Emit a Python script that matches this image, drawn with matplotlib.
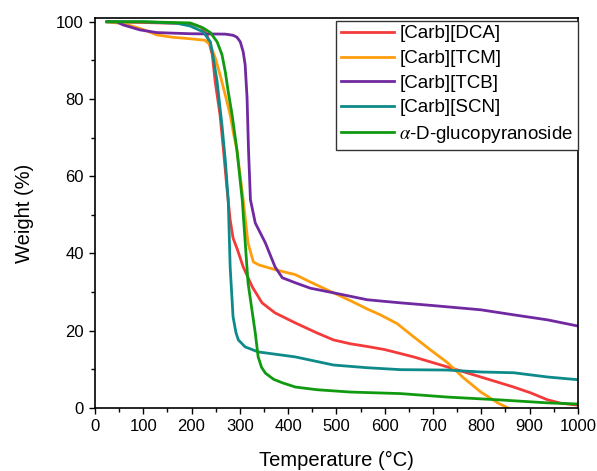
import numpy as np
import matplotlib
matplotlib.use("Agg")
import matplotlib.pyplot as plt
from matplotlib.ticker import MultipleLocator

plt.rcParams['font.family'] = ['Liberation Sans', 'DejaVu Sans']
plt.rcParams['mathtext.fontset'] = 'stix'

# [Carb][DCA]
dca_t = [25, 100, 200, 220, 232, 243, 249, 259, 266, 274, 280, 286, 295, 307, 326, 346,
         373, 415, 460, 494, 529, 564, 600, 660, 730, 799, 867, 902, 937, 965, 1000]
dca_w = [100, 99.8, 99.5, 98.6, 96.6, 91.5, 84.5, 75.9, 67, 56, 48.7, 44, 41, 36.5, 31.3, 27.2,
         24.6, 22, 19.4, 17.6, 16.6, 15.9, 15.1, 13.2, 10.6, 8.0, 5.4, 3.9, 2.1, 1.2, 0.7]

# [Carb][TCM]
tcm_t = [25, 60, 100, 128, 160, 197, 228, 239, 249, 259, 270, 280, 287, 294, 307, 317,
         328, 340, 373, 415, 446, 494, 530, 564, 591, 626, 660, 695, 730, 763, 799, 834, 855]
tcm_w = [100, 99.5, 98, 96.6, 96, 95.6, 95.2, 94, 90.7, 86.3, 81, 75.9, 71, 66.8, 53.9, 42.7,
         37.8, 37, 35.8, 34.5, 32.6, 29.8, 27.7, 25.6, 24.1, 21.8, 18.4, 15, 11.7, 7.8, 4.1, 1.3, 0]

# [Carb][TCB]
tcb_t = [25, 45, 58, 93, 128, 197, 270, 286, 294, 301, 307, 311, 315, 318, 322, 332, 353,
         373, 388, 415, 446, 494, 564, 633, 700, 799, 867, 937, 1000]
tcb_w = [100, 100, 99.2, 97.9, 97.2, 96.9, 96.8, 96.5, 96, 94.8, 92.2, 88.9, 80.3, 66.8, 53.9,
         47.9, 42.7, 36.5, 33.7, 32.4, 31, 29.8, 28, 27.2, 26.5, 25.4, 24.1, 22.8, 21.2]

# [Carb][SCN]
scn_t = [25, 100, 170, 197, 224, 239, 245, 253, 259, 263, 270, 276, 280, 286, 292, 297,
         311, 338, 415, 494, 564, 633, 730, 799, 867, 937, 1000]
scn_w = [100, 100, 99.6, 98.9, 97.4, 94.8, 90.7, 84.5, 77.7, 73.3, 64, 53.9, 36.5, 23.6, 19.5,
         17.6, 15.8, 14.5, 13.2, 11.1, 10.4, 9.9, 9.8, 9.3, 9.1, 8.0, 7.3]

# alpha-D-glucopyranoside
glu_t = [25, 100, 197, 224, 239, 253, 263, 270, 276, 284, 294, 305, 317, 332, 338,
         345, 353, 370, 388, 415, 460, 529, 633, 730, 834, 937, 1000]
glu_w = [100, 100, 99.7, 98.4, 97.2, 94.8, 91.5, 87, 81.9, 75.9, 66.8, 53.9, 32.4, 19.4, 13.2,
         10.5, 9, 7.4, 6.5, 5.4, 4.7, 4.1, 3.7, 2.8, 2.1, 1.3, 1.0]

series = [
    (dca_t, dca_w, "[Carb][DCA]", "#f43a3a"),
    (tcm_t, tcm_w, "[Carb][TCM]", "#ff9e0d"),
    (tcb_t, tcb_w, "[Carb][TCB]", "#7029a0"),
    (scn_t, scn_w, "[Carb][SCN]", "#0e8a8a"),
    (glu_t, glu_w, r"$\alpha$-D-glucopyranoside", "#109a10"),
]

fig = plt.figure(figsize=(5.97, 4.71), dpi=100)
ax = fig.add_axes([0.159, 0.134, 0.809, 0.828])

for t, w, label, color in series:
    ax.plot(t, w, color=color, lw=2.0, label=label, solid_joinstyle='round')

ax.set_xlim(0, 1000)
ax.set_ylim(0, 101)
ax.xaxis.set_major_locator(MultipleLocator(100))
ax.xaxis.set_minor_locator(MultipleLocator(50))
ax.yaxis.set_major_locator(MultipleLocator(20))
ax.yaxis.set_minor_locator(MultipleLocator(10))
ax.tick_params(which='major', direction='out', length=4.5, width=1, labelsize=12, top=False, right=False)
ax.tick_params(which='minor', direction='out', length=3, width=1, top=False, right=False)
for s in ax.spines.values():
    s.set_linewidth(1.2)

ax.set_xlabel("Temperature (°C)", fontsize=14.5, labelpad=12)
ax.set_ylabel("Weight (%)", fontsize=14.5, labelpad=16)

leg = ax.legend(loc='upper right', bbox_to_anchor=(1.0, 0.993), fontsize=13.5,
                frameon=True, fancybox=False, framealpha=1, edgecolor='#333333',
                handlelength=2.8, handletextpad=0.3, labelspacing=0.4, borderpad=0.25,
                borderaxespad=0.0)
leg.get_frame().set_linewidth(1.0)

fig.savefig("out.png", dpi=100)
